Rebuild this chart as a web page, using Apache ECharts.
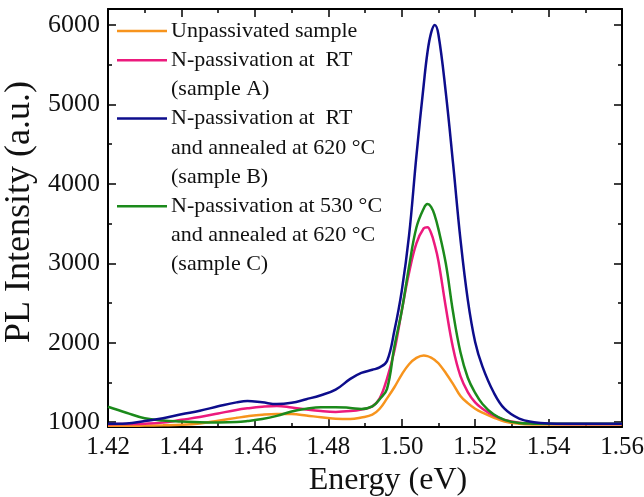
<!DOCTYPE html>
<html>
<head>
<meta charset="utf-8">
<script src="https://cdn.jsdelivr.net/npm/echarts@6/dist/echarts.min.js"></script>
<style>
html,body{margin:0;padding:0;background:#fff;}
#chart{width:644px;height:497px;}
</style>
</head>
<body>
<div id="chart"></div>
<script>
// Photon energy grid (eV)
var energy = [1.420,1.425,1.430,1.435,1.440,1.445,1.450,1.455,1.458,1.462,1.466,1.470,1.474,1.478,1.482,1.486,1.489,1.492,1.494,1.496,1.498,1.500,1.502,1.504,1.506,1.507,1.508,1.509,1.510,1.512,1.514,1.516,1.518,1.520,1.522,1.525,1.528,1.532,1.536,1.540,1.550,1.560];

// PL intensity (a.u.)
var unpassivated = [955,955,958,962,968,985,1020,1055,1075,1095,1105,1103,1085,1062,1045,1040,1060,1095,1170,1300,1440,1600,1730,1810,1840,1832,1812,1782,1742,1620,1480,1330,1240,1170,1120,1060,1010,982,972,970,970,970];
var sampleA = [975,978,982,995,1030,1065,1110,1155,1175,1195,1205,1185,1160,1140,1130,1140,1160,1200,1300,1550,1900,2400,2880,3250,3440,3455,3380,3230,3030,2450,1930,1580,1380,1250,1170,1085,1030,995,985,980,978,978];
var sampleB = [980,985,1015,1050,1100,1145,1200,1250,1268,1250,1228,1245,1290,1340,1410,1545,1620,1660,1690,1770,2150,2650,3350,4350,5250,5650,5900,6000,5880,5150,4250,3300,2540,2010,1700,1380,1170,1045,1000,985,980,980];
var sampleC = [1195,1120,1050,1022,1010,1000,997,1002,1015,1040,1080,1135,1170,1190,1190,1180,1168,1200,1290,1420,1950,2400,2960,3450,3690,3745,3710,3600,3430,3000,2380,1880,1560,1370,1230,1100,1030,990,982,980,980,980];

var seriesNames = ['Unpassivated sample','N-passivation at  RT (sample A)','N-passivation at  RT and annealed at 620 °C (sample B)','N-passivation at 530 °C and annealed at 620 °C (sample C)'];
var seriesColors = ['#f7941d','#ec1a7d','#0d0d8c','#1b8a1b'];
var seriesData = [unpassivated, sampleA, sampleB, sampleC];

// legend text lines (as shown in the figure)
var legendLines = [
  ['Unpassivated sample'],
  ['N-passivation at  RT','(sample A)'],
  ['N-passivation at  RT','and annealed at 620 °C','(sample B)'],
  ['N-passivation at 530 °C','and annealed at 620 °C','(sample C)']
];

var FONT = '"Liberation Serif", "Times New Roman", serif';

function pairs(arr){ return energy.map(function(e,i){ return [e, arr[i]]; }); }

var series = seriesData.map(function(d, i){
  return {
    name: seriesNames[i], type: 'line', data: pairs(d),
    smooth: 0.4, showSymbol: false,
    lineStyle: {color: seriesColors[i], width: 2.5},
    itemStyle: {color: seriesColors[i]},
    z: [2,3,5,4][i]
  };
});

// legend as graphic elements
var graphics = [];
var rowY = 31, rowH = 29.2;
legendLines.forEach(function(lines, i){
  graphics.push({type:'line', shape:{x1:117, y1:rowY, x2:167, y2:rowY},
    style:{stroke: seriesColors[i], lineWidth: 2.5}, z: 10});
  lines.forEach(function(t, j){
    graphics.push({type:'text', x:171, y: rowY + j*rowH,
      style:{text: t, font: '22px ' + FONT, fill:'#111', textVerticalAlign:'middle', textAlign:'left'}, z:10});
  });
  rowY += lines.length * rowH;
});

var chart = echarts.init(document.getElementById('chart'), null, {renderer:'canvas'});
var axisLine = {show:true, onZero:false, lineStyle:{color:'#000', width:2}};
chart.setOption({
  animation: false,
  backgroundColor: '#fff',
  grid: {left:108, right:22, top:9, bottom:70, containLabel:false, outerBoundsMode:'none'},
  xAxis: [{
    type:'value', min:1.42, max:1.56, interval:0.02, position:'bottom',
    name:'Energy (eV)', nameLocation:'middle', nameGap:36,
    nameTextStyle:{fontFamily:FONT, fontSize:32, color:'#111', padding:[0,0,0,46]},
    axisLine: axisLine,
    axisTick:{show:true, inside:true, length:8, lineStyle:{color:'#000', width:1.5}},
    minorTick:{show:true, splitNumber:2, length:4, lineStyle:{color:'#000', width:1.5}},
    axisLabel:{fontFamily:FONT, fontSize:25, color:'#111', margin:8, formatter:function(v){return v.toFixed(2);}},
    splitLine:{show:false}
  },{
    type:'value', min:1.42, max:1.56, interval:0.02, position:'top',
    axisLine: axisLine,
    axisTick:{show:true, inside:true, length:8, lineStyle:{color:'#000', width:1.5}},
    minorTick:{show:true, splitNumber:2, length:4, lineStyle:{color:'#000', width:1.5}},
    axisLabel:{show:false}, splitLine:{show:false}
  }],
  yAxis: [{
    type:'value', min:940, max:6200, splitNumber:5, position:'left',
    name:'PL Intensity (a.u.)', nameLocation:'middle', nameGap:61, nameRotate:90,
    nameTextStyle:{fontFamily:FONT, fontSize:36, color:'#111', padding:[0,0,0,12]},
    axisLine: axisLine,
    axisTick:{show:true, inside:true, length:8, lineStyle:{color:'#000', width:1.5}},
    minorTick:{show:true, splitNumber:2, length:4, lineStyle:{color:'#000', width:1.5}},
    axisLabel:{fontFamily:FONT, fontSize:26, color:'#111', margin:8, showMinLabel:false, showMaxLabel:false,
      formatter:function(v){ return (v % 1000 === 0) ? String(v) : ''; }},
    splitLine:{show:false}
  },{
    type:'value', min:940, max:6200, splitNumber:5, position:'right',
    axisLine: axisLine,
    axisTick:{show:true, inside:true, length:8, lineStyle:{color:'#000', width:1.5}},
    minorTick:{show:true, splitNumber:2, length:4, lineStyle:{color:'#000', width:1.5}},
    axisLabel:{show:false}, splitLine:{show:false}
  }],
  series: series,
  graphic: graphics
});
</script>
</body>
</html>
